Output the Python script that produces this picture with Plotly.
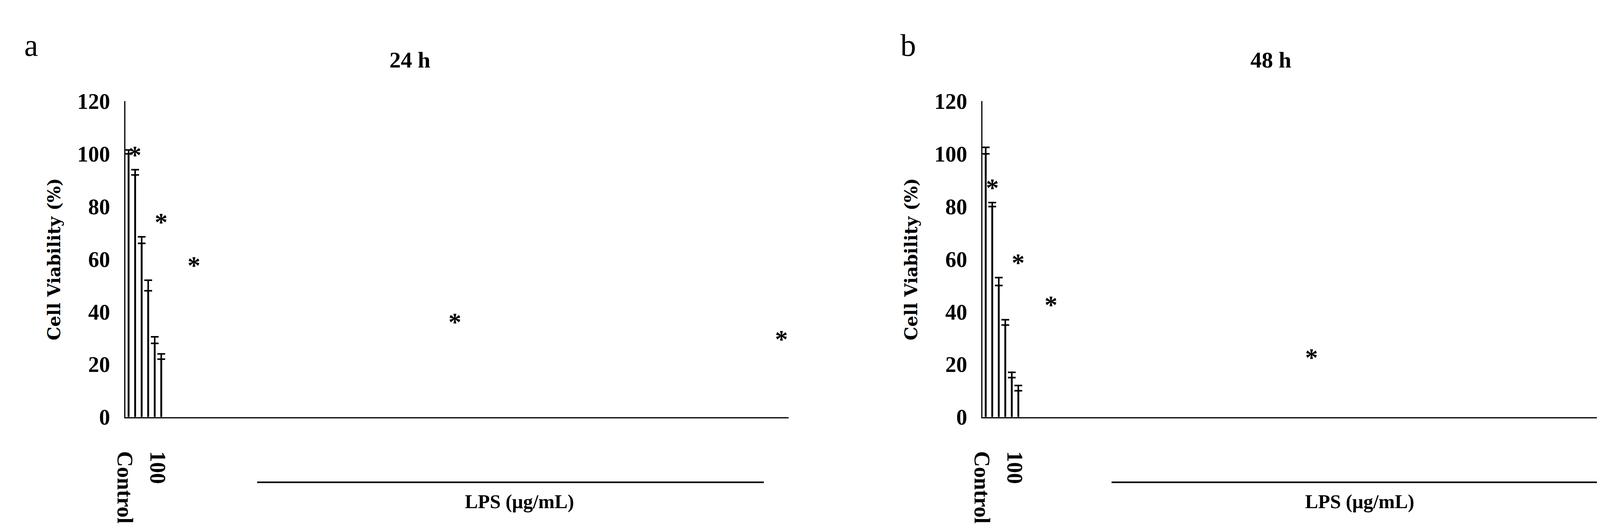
import plotly.graph_objects as go

categories = ["Control", "1", "5", "10", "50", "100"]
viab_24h = [100, 92, 66, 48, 28, 22]
err_24h = [1.5, 2, 2.5, 4, 2.5, 2]
viab_48h = [100, 80, 50, 35, 15, 10]
err_48h = [2.5, 1.5, 3, 2, 2, 2]
signif = ["", "*", "*", "*", "*", "*"]

W, H = 4227, 1358
serif = "Liberation Serif"

fig = go.Figure()
for i, (vals, errs) in enumerate([(viab_24h, err_24h), (viab_48h, err_48h)]):
    xa = "x" if i == 0 else "x2"
    ya = "y" if i == 0 else "y2"
    fig.add_trace(go.Bar(
        x=categories, y=vals, xaxis=xa, yaxis=ya, marker_color="black",
        error_y=dict(type="data", array=errs, arrayminus=[0] * len(errs), symmetric=False,
                     color="black", thickness=4, width=10),
        showlegend=False))
    for c, v, e, s in zip(categories, vals, errs, signif):
        if s:
            fig.add_annotation(x=c, y=v + e, xref=xa, yref=ya, text="<b>*</b>", showarrow=False,
                               yanchor="bottom", yshift=0, font=dict(family=serif, size=66, color="black"))

y_dom = [1 - 1080 / H, 1 - 232 / H]
axis_common = dict(showline=True, linecolor="black", linewidth=3, showgrid=False, ticks="",
                   zeroline=False, tickfont=dict(family=serif, size=56, color="black"))
ytitle = dict(text="<b>Cell Viability (%)</b>", font=dict(family="DejaVu Serif", size=44, color="black"),
              standoff=30)
fig.update_layout(
    width=W, height=H, plot_bgcolor="white", paper_bgcolor="white",
    margin=dict(l=0, r=0, t=0, b=0), bargap=0.69,
    xaxis=dict(domain=[283 / W, 1994 / W], anchor="y", type="category", ticklabelstandoff=45, **axis_common),
    xaxis2=dict(domain=[2494 / W, 4202 / W], anchor="y2", type="category", ticklabelstandoff=45, **axis_common),
    yaxis=dict(domain=y_dom, range=[0, 120], dtick=20, anchor="x", ticklabelstandoff=25,
               title=ytitle, **axis_common),
    yaxis2=dict(domain=y_dom, range=[0, 120], dtick=20, anchor="x2", ticklabelstandoff=25,
                title=ytitle, **axis_common),
)
fig.update_xaxes(tickprefix="<b>", ticksuffix="</b>")
fig.update_yaxes(tickprefix="<b>", ticksuffix="</b>")

texts = [
    ("a", 40, 82, 80, False, "center"),
    ("b", 2302, 82, 80, False, "center"),
    ("24 h", 1017, 121, 58, True, "center"),
    ("48 h", 3238, 121, 58, True, "center"),
    ("LPS (μg/mL)", 1300, 1307, 50, True, "center"),
    ("LPS (μg/mL)", 3467, 1307, 50, True, "center"),
]
for t, x, y, sz, bold, xanc in texts:
    fig.add_annotation(x=x / W, y=1 - y / H, xref="paper", yref="paper", showarrow=False,
                       text=f"<b>{t}</b>" if bold else t, xanchor=xanc, yanchor="middle",
                       font=dict(family=serif, size=sz, color="black"))

for x0, x1 in [(623, 1930), (2827, 4135)]:
    fig.add_shape(type="line", xref="paper", yref="paper", x0=x0 / W, x1=x1 / W,
                  y0=1 - 1255 / H, y1=1 - 1255 / H, line=dict(color="black", width=4))

fig.write_html("out.html")
